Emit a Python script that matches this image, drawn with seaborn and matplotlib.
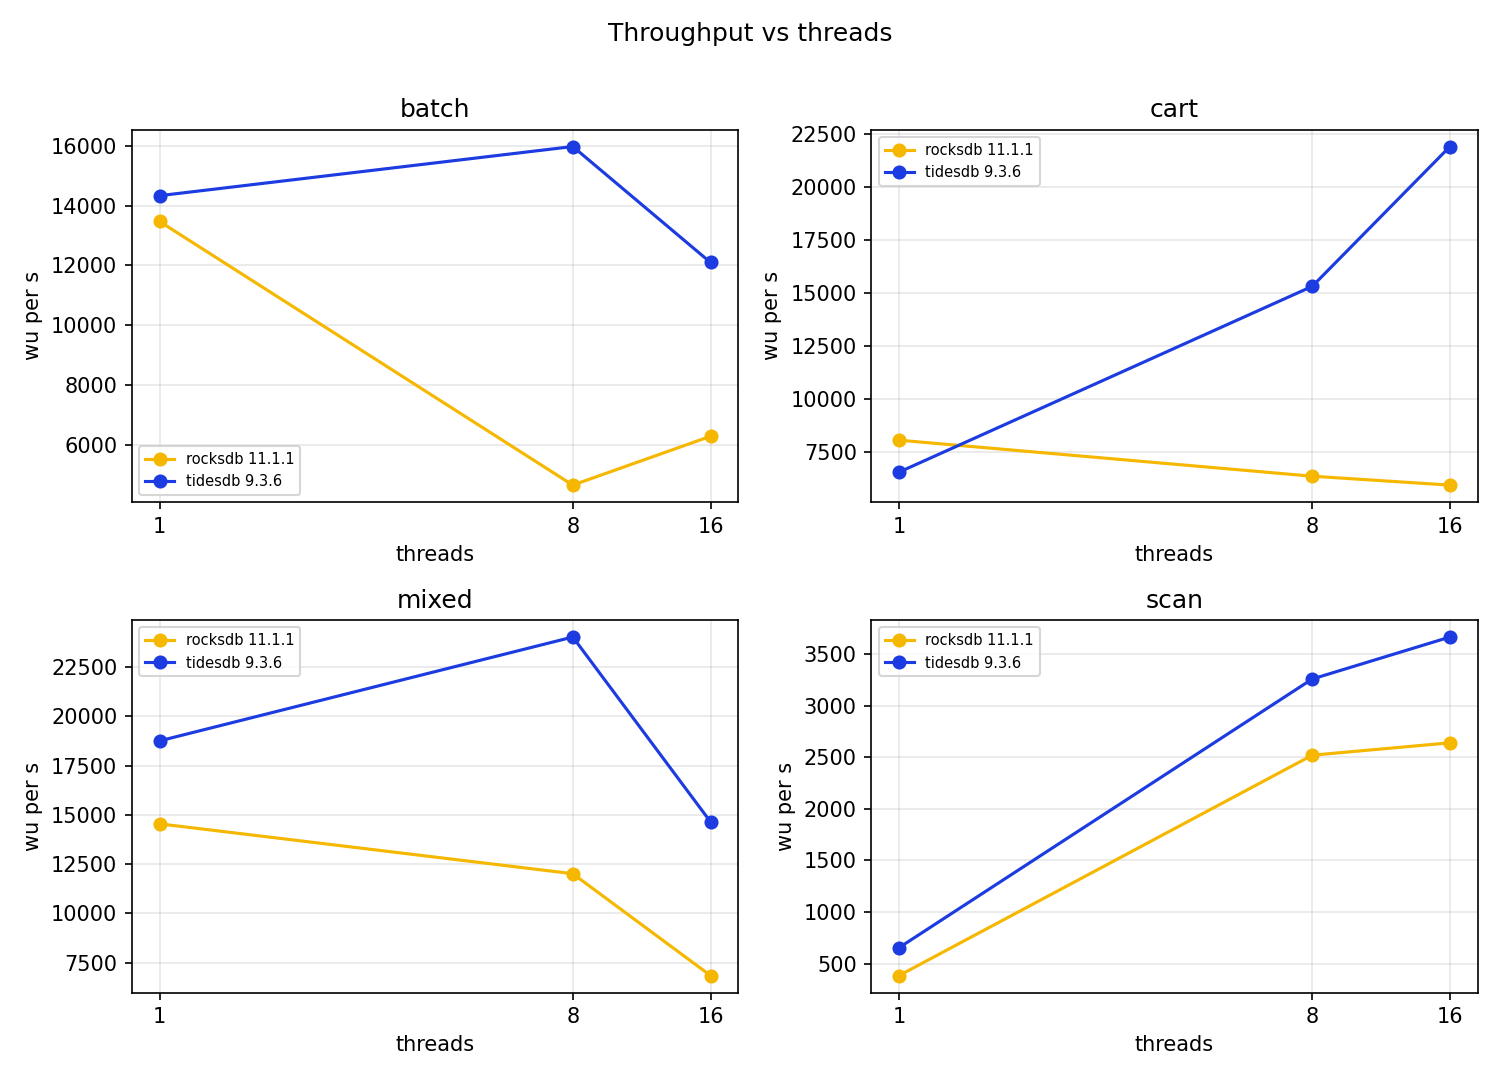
import numpy as np
import pandas as pd
import seaborn as sns
import matplotlib.pyplot as plt
from matplotlib.ticker import NullLocator

threads = [1, 8, 16]
workloads = ["batch", "cart", "mixed", "scan"]
engines = ["rocksdb 11.1.1", "tidesdb 9.3.6"]

# wu per s
rocksdb_batch = [13470, 4670, 6300]
tidesdb_batch = [14330, 15970, 12100]
rocksdb_cart = [8070, 6370, 5950]
tidesdb_cart = [6560, 15330, 21930]
rocksdb_mixed = [14540, 12010, 6840]
tidesdb_mixed = [18750, 24020, 14640]
rocksdb_scan = [385, 2520, 2640]
tidesdb_scan = [655, 3258, 3665]

colors = {"rocksdb 11.1.1": "#F5B700", "tidesdb 9.3.6": "#1C3BE0"}
legend_loc = {"batch": "lower left", "cart": "upper left", "mixed": "upper left", "scan": "upper left"}

series = {
    ("batch", "rocksdb 11.1.1"): rocksdb_batch,
    ("batch", "tidesdb 9.3.6"): tidesdb_batch,
    ("cart", "rocksdb 11.1.1"): rocksdb_cart,
    ("cart", "tidesdb 9.3.6"): tidesdb_cart,
    ("mixed", "rocksdb 11.1.1"): rocksdb_mixed,
    ("mixed", "tidesdb 9.3.6"): tidesdb_mixed,
    ("scan", "rocksdb 11.1.1"): rocksdb_scan,
    ("scan", "tidesdb 9.3.6"): tidesdb_scan,
}

rows = []
for (wl, eng), vals in series.items():
    for t, v in zip(threads, vals):
        rows.append({"workload": wl, "engine": eng, "threads": t, "wu_per_s": v})
df = pd.DataFrame(rows)

fig, axes = plt.subplots(2, 2, figsize=(10, 7.2), dpi=150)
for ax, wl in zip(axes.flat, workloads):
    sub = df[df["workload"] == wl]
    for eng in engines:
        d = sub[sub["engine"] == eng]
        sns.lineplot(data=d, x="threads", y="wu_per_s", ax=ax, color=colors[eng],
                     marker="o", markersize=6, markeredgecolor=colors[eng],
                     linewidth=1.5, label=eng)
    ax.set_xscale("log", base=2)
    ax.set_xticks(threads)
    ax.set_xticklabels([str(t) for t in threads])
    ax.xaxis.set_minor_locator(NullLocator())
    ax.set_title(wl)
    ax.set_xlabel("threads")
    ax.set_ylabel("wu per s")
    ax.grid(True, alpha=0.3)
    ax.legend(loc=legend_loc[wl], fontsize=7)

fig.suptitle("Throughput vs threads")
fig.subplots_adjust(left=0.088, right=0.985, top=0.88, bottom=0.081, wspace=0.22, hspace=0.317)
fig.savefig("out.png", dpi=150)
